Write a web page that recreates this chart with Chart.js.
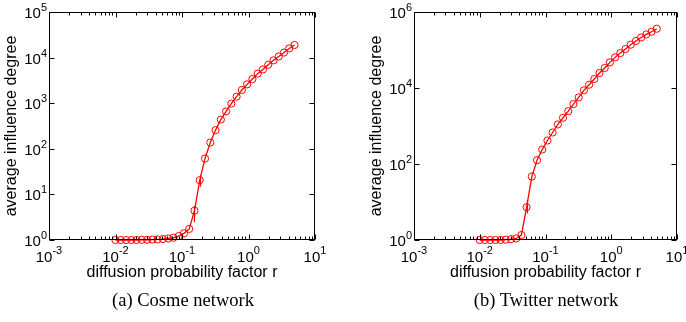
<!DOCTYPE html>
<html><head><meta charset="utf-8">
<script src="https://cdn.jsdelivr.net/npm/chart.js@4"></script>
<style>
html,body{margin:0;padding:0;background:#fff;width:686px;height:322px;overflow:hidden;position:relative}
canvas{position:absolute;top:0}
.cap{position:absolute;font-family:"Liberation Serif","Times New Roman",serif;font-size:18.5px;color:#000;white-space:nowrap;transform:translateX(-50%);top:290px;line-height:20px}
</style></head><body>
<canvas id="c1" width="343" height="322" style="left:0"></canvas>
<canvas id="c2" width="343" height="322" style="left:343px"></canvas>
<div class="cap" style="left:183px">(a) Cosme network</div>
<div class="cap" style="left:546px">(b) Twitter network</div>
<script>
// diffusion probability factor r (x values)
const rValues = [0.01, 0.012, 0.0144, 0.01728, 0.02074, 0.02488, 0.02986, 0.03583, 0.043, 0.0516,
  0.06192, 0.0743, 0.08916, 0.107, 0.1284, 0.1541, 0.1849, 0.2219, 0.2662, 0.3195,
  0.3834, 0.4601, 0.5521, 0.6625, 0.795, 0.954, 1.145, 1.374, 1.648, 1.978,
  2.374, 2.849, 3.418, 4.102, 4.922];
// (a) Cosme network: average influence degree
const cosmeDegree = [1.0, 1.0, 1.0, 1.0, 1.0, 1.01, 1.01, 1.02, 1.03, 1.05,
  1.08, 1.12, 1.22, 1.4, 1.75, 4.4, 20.5, 61, 137, 257,
  437, 660, 977, 1390, 1950, 2590, 3380, 4450, 5500, 6950,
  8700, 10600, 12900, 15900, 18900];
// (b) Twitter network: average influence degree
const twitterDegree = [1.0, 1.0, 1.0, 1.0, 1.0, 1.02, 1.05, 1.1, 1.35, 7.3,
  46.7, 126, 240, 415, 675, 1100, 1650, 2460, 3770, 5650,
  8680, 12200, 17200, 24800, 33600, 47300, 64000, 83000, 106000, 138000,
  173000, 214000, 257000, 302000, 363000];
// error bar ranges (low, high); null = no visible bar
const cosmeErrLow  = [null,null,null,null,null,null,null,null,null,null,null,null,null,null,null,2.5,14.8,null,null,null,null,null,null,null,null,null,null,null,null,null,null,null,null,null,null];
const cosmeErrHigh = [null,null,null,null,null,null,null,null,null,null,null,null,null,null,null,5.6,27,null,null,null,null,null,null,null,null,null,null,null,null,null,null,null,null,null,null];
const twitterErrLow  = [null,null,null,null,null,null,null,null,null,5.0,null,null,null,null,null,null,null,null,null,null,null,null,null,null,null,null,null,null,null,null,null,null,null,null,null];
const twitterErrHigh = [null,null,null,null,null,null,null,null,null,11.3,null,null,null,null,null,null,null,null,null,null,null,null,null,null,null,null,null,null,null,null,null,null,null,null,null];
// tick exponents
const xTickExps = [-3, -2, -1, 0, 1];
const cosmeYTickExps = [0, 1, 2, 3, 4, 5];
const twitterYTickExps = [0, 2, 4, 6];
const yTitle = 'average influence degree';
const xTitle = 'diffusion probability factor r';

const SANS = '"Liberation Sans", Arial, Helvetica, sans-serif';

function axesPlugin(yExps, errLow, errHigh) {
  return {
    id: 'matlabAxes',
    afterDatasetsDraw(chart) {
      const ctx = chart.ctx;
      const a = chart.chartArea;
      const xs = chart.scales.x, ys = chart.scales.y;
      const L = Math.round(a.left) + 0.5, R = Math.round(a.right) - 0.5;
      const T = Math.round(a.top) + 0.5, B = Math.round(a.bottom) - 0.5;
      ctx.save();
      // error bars
      ctx.strokeStyle = '#ff0000'; ctx.lineWidth = 1.2;
      for (let i = 0; i < rValues.length; i++) {
        if (errLow[i] == null) continue;
        const px = Math.round(xs.getPixelForValue(rValues[i])) + 0.5;
        ctx.beginPath();
        ctx.moveTo(px, ys.getPixelForValue(errLow[i]));
        ctx.lineTo(px, ys.getPixelForValue(errHigh[i]));
        ctx.stroke();
      }
      // box
      ctx.strokeStyle = '#000'; ctx.lineWidth = 1;
      ctx.strokeRect(L, T, R - L, B - T);
      // x ticks
      ctx.beginPath();
      for (let e = xTickExps[0]; e <= xTickExps[xTickExps.length - 1]; e++) {
        for (let m = 1; m <= 9; m++) {
          const v = m * Math.pow(10, e);
          if (v > xs.max * 1.0001) break;
          const px = Math.round(xs.getPixelForValue(v)) + 0.5;
          const len = m === 1 ? 5 : 3;
          ctx.moveTo(px, B); ctx.lineTo(px, B - len);
          ctx.moveTo(px, T); ctx.lineTo(px, T + len);
        }
      }
      // y ticks
      yExps.forEach(e => {
        const py = Math.round(ys.getPixelForValue(Math.pow(10, e))) + 0.5;
        ctx.moveTo(L, py); ctx.lineTo(L + 5, py);
        ctx.moveTo(R, py); ctx.lineTo(R - 5, py);
      });
      ctx.stroke();
      // labels
      ctx.fillStyle = '#000';
      const big = '15px ' + SANS, small = '11px ' + SANS;
      ctx.textBaseline = 'alphabetic';
      xTickExps.forEach(e => {
        const px = xs.getPixelForValue(Math.pow(10, e));
        ctx.font = big; const w1 = ctx.measureText('10').width;
        ctx.font = small; const es = String(e); const w2 = ctx.measureText(es).width;
        const x0 = px - (w1 + w2) / 2;
        ctx.textAlign = 'left';
        ctx.font = big; ctx.fillText('10', x0, 262);
        ctx.font = small; ctx.fillText(es, x0 + w1, 254);
      });
      yExps.forEach(e => {
        const py = ys.getPixelForValue(Math.pow(10, e));
        const rx = a.left - 2;
        ctx.font = small; const es = String(e); const w2 = ctx.measureText(es).width;
        ctx.textAlign = 'right';
        ctx.fillText(es, rx, py - 1);
        ctx.font = big; ctx.fillText('10', rx - w2, py + 6);
      });
      // axis titles
      ctx.font = '16px ' + SANS;
      ctx.textAlign = 'center'; ctx.textBaseline = 'middle';
      ctx.fillText(xTitle, (a.left + a.right) / 2, 273);
      ctx.save();
      ctx.translate(a.left - 37, (a.top + a.bottom) / 2);
      ctx.rotate(-Math.PI / 2);
      ctx.fillText(yTitle, 0, 0);
      ctx.restore();
      ctx.restore();
    }
  };
}

function makeChart(id, values, yMax, yExps, pad, errLow, errHigh) {
  return new Chart(document.getElementById(id), {
    type: 'line',
    data: {
      datasets: [{
        data: rValues.map((r, i) => ({ x: r, y: values[i] })),
        borderColor: '#ff0000',
        borderWidth: 1.3,
        backgroundColor: 'rgba(0,0,0,0)',
        pointStyle: 'circle',
        pointRadius: 3.6,
        pointBorderColor: '#ff0000',
        pointBackgroundColor: 'rgba(0,0,0,0)',
        pointBorderWidth: 1,
        tension: 0,
        clip: false
      }]
    },
    options: {
      responsive: false,
      animation: false,
      devicePixelRatio: 1,
      layout: { padding: pad },
      plugins: { legend: { display: false }, tooltip: { enabled: false } },
      scales: {
        x: { type: 'logarithmic', min: 0.001, max: 10, display: false },
        y: { type: 'logarithmic', min: 1, max: yMax, display: false }
      }
    },
    plugins: [axesPlugin(yExps, errLow, errHigh)]
  });
}

makeChart('c1', cosmeDegree, 1e5, cosmeYTickExps, { left: 49, top: 12, right: 28, bottom: 82 }, cosmeErrLow, cosmeErrHigh);
makeChart('c2', twitterDegree, 1e6, twitterYTickExps, { left: 71, top: 12, right: 9, bottom: 82 }, twitterErrLow, twitterErrHigh);
</script>
</body></html>
